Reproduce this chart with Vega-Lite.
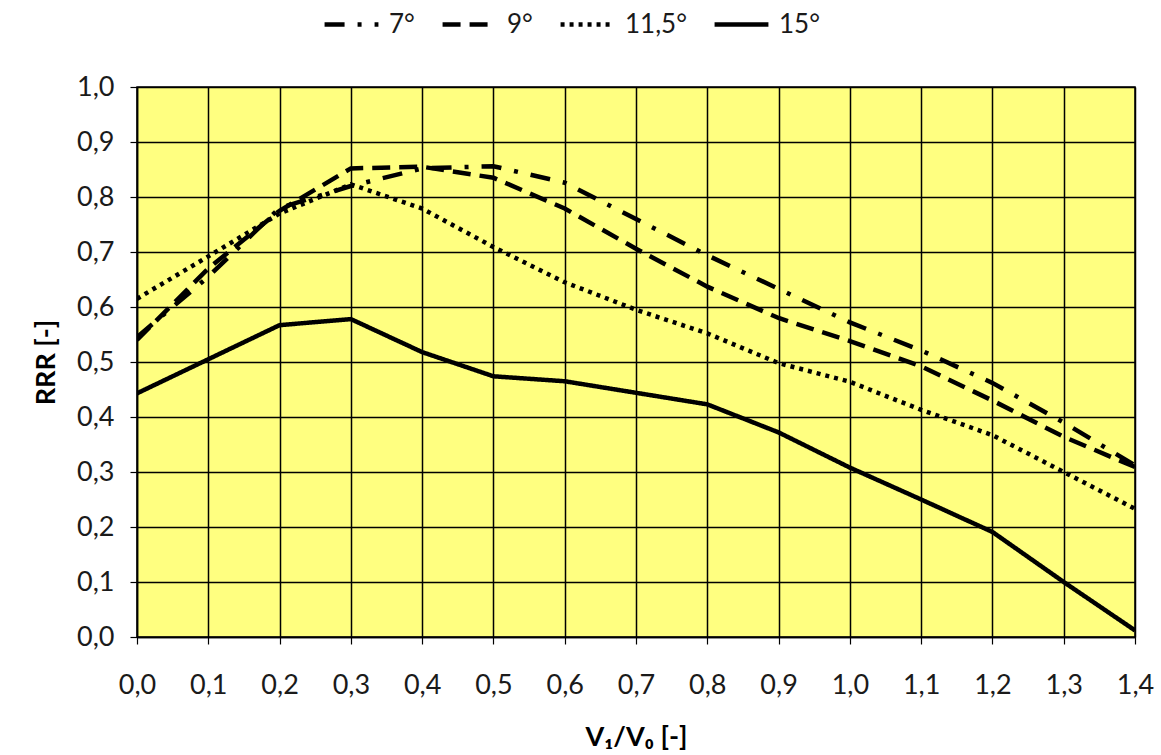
{
  "$schema": "https://vega.github.io/schema/vega-lite/v6.json",
  "width": 998,
  "height": 550,
  "autosize": "none",
  "padding": {"left": 137, "top": 87, "right": 26, "bottom": 118},
  "background": "white",
  "config": {
    "font": "Lato",
    "view": {"fill": "#FFFF80", "stroke": "black", "strokeWidth": 1.5},
    "axis": {
      "grid": true,
      "gridColor": "black",
      "gridWidth": 1.5,
      "gridOpacity": 1,
      "domainColor": "black",
      "domainWidth": 1.5,
      "tickColor": "black",
      "tickWidth": 1.2,
      "tickSize": 7,
      "labelFont": "Lato",
      "labelFontSize": 27,
      "labelColor": "#1a1a1a",
      "labelFlush": false,
      "labelOverlap": false,
      "titleFont": "Lato",
      "titleFontSize": 27,
      "titleFontWeight": "bold",
      "titleColor": "black"
    }
  },
  "data": {
    "values": [
      {"v": 0.0, "rrr": 0.545, "s": "7°"},
      {"v": 0.1, "rrr": 0.655, "s": "7°"},
      {"v": 0.2, "rrr": 0.78, "s": "7°"},
      {"v": 0.3, "rrr": 0.82, "s": "7°"},
      {"v": 0.4, "rrr": 0.852, "s": "7°"},
      {"v": 0.5, "rrr": 0.856, "s": "7°"},
      {"v": 0.6, "rrr": 0.826, "s": "7°"},
      {"v": 0.7, "rrr": 0.76, "s": "7°"},
      {"v": 0.8, "rrr": 0.694, "s": "7°"},
      {"v": 0.9, "rrr": 0.633, "s": "7°"},
      {"v": 1.0, "rrr": 0.572, "s": "7°"},
      {"v": 1.1, "rrr": 0.521, "s": "7°"},
      {"v": 1.2, "rrr": 0.462, "s": "7°"},
      {"v": 1.3, "rrr": 0.39, "s": "7°"},
      {"v": 1.4, "rrr": 0.312, "s": "7°"},
      {"v": 0.0, "rrr": 0.54, "s": "9°"},
      {"v": 0.1, "rrr": 0.67, "s": "9°"},
      {"v": 0.2, "rrr": 0.775, "s": "9°"},
      {"v": 0.3, "rrr": 0.852, "s": "9°"},
      {"v": 0.4, "rrr": 0.855, "s": "9°"},
      {"v": 0.5, "rrr": 0.835, "s": "9°"},
      {"v": 0.6, "rrr": 0.779, "s": "9°"},
      {"v": 0.7, "rrr": 0.706, "s": "9°"},
      {"v": 0.8, "rrr": 0.637, "s": "9°"},
      {"v": 0.9, "rrr": 0.58, "s": "9°"},
      {"v": 1.0, "rrr": 0.538, "s": "9°"},
      {"v": 1.1, "rrr": 0.492, "s": "9°"},
      {"v": 1.2, "rrr": 0.43, "s": "9°"},
      {"v": 1.3, "rrr": 0.364, "s": "9°"},
      {"v": 1.4, "rrr": 0.309, "s": "9°"},
      {"v": 0.0, "rrr": 0.615, "s": "11,5°"},
      {"v": 0.1, "rrr": 0.692, "s": "11,5°"},
      {"v": 0.2, "rrr": 0.77, "s": "11,5°"},
      {"v": 0.3, "rrr": 0.823, "s": "11,5°"},
      {"v": 0.4, "rrr": 0.779, "s": "11,5°"},
      {"v": 0.5, "rrr": 0.709, "s": "11,5°"},
      {"v": 0.6, "rrr": 0.645, "s": "11,5°"},
      {"v": 0.7, "rrr": 0.595, "s": "11,5°"},
      {"v": 0.8, "rrr": 0.552, "s": "11,5°"},
      {"v": 0.9, "rrr": 0.498, "s": "11,5°"},
      {"v": 1.0, "rrr": 0.464, "s": "11,5°"},
      {"v": 1.1, "rrr": 0.413, "s": "11,5°"},
      {"v": 1.2, "rrr": 0.367, "s": "11,5°"},
      {"v": 1.3, "rrr": 0.3, "s": "11,5°"},
      {"v": 1.4, "rrr": 0.233, "s": "11,5°"},
      {"v": 0.0, "rrr": 0.443, "s": "15°"},
      {"v": 0.1, "rrr": 0.505, "s": "15°"},
      {"v": 0.2, "rrr": 0.567, "s": "15°"},
      {"v": 0.3, "rrr": 0.578, "s": "15°"},
      {"v": 0.4, "rrr": 0.518, "s": "15°"},
      {"v": 0.5, "rrr": 0.474, "s": "15°"},
      {"v": 0.6, "rrr": 0.465, "s": "15°"},
      {"v": 0.7, "rrr": 0.444, "s": "15°"},
      {"v": 0.8, "rrr": 0.423, "s": "15°"},
      {"v": 0.9, "rrr": 0.372, "s": "15°"},
      {"v": 1.0, "rrr": 0.308, "s": "15°"},
      {"v": 1.1, "rrr": 0.25, "s": "15°"},
      {"v": 1.2, "rrr": 0.191, "s": "15°"},
      {"v": 1.3, "rrr": 0.1, "s": "15°"},
      {"v": 1.4, "rrr": 0.012, "s": "15°"}
    ]
  },
  "mark": {"type": "line", "color": "black", "clip": true},
  "encoding": {
    "x": {
      "field": "v",
      "type": "quantitative",
      "scale": {"domain": [0, 1.4], "nice": false, "zero": false},
      "axis": {
        "title": "V₁/V₀ [-]",
        "values": [0, 0.1, 0.2, 0.3, 0.4, 0.5, 0.6, 0.7, 0.8, 0.9, 1.0, 1.1, 1.2, 1.3, 1.4],
        "labelExpr": "replace(format(datum.value, '.1f'), '.', ',')",
        "labelPadding": 28,
        "titlePadding": 26
      }
    },
    "y": {
      "field": "rrr",
      "type": "quantitative",
      "scale": {"domain": [0, 1], "nice": false},
      "axis": {
        "title": "RRR [-]",
        "values": [0, 0.1, 0.2, 0.3, 0.4, 0.5, 0.6, 0.7, 0.8, 0.9, 1.0],
        "labelExpr": "replace(format(datum.value, '.1f'), '.', ',')",
        "labelPadding": 16,
        "titlePadding": 16
      }
    },
    "strokeDash": {
      "field": "s",
      "type": "nominal",
      "scale": {
        "domain": ["7°", "9°", "11,5°", "15°"],
        "range": [[20, 13, 4, 13], [18, 9], [4, 5], [1, 0]]
      },
      "legend": {
        "title": null,
        "orient": "none",
        "direction": "horizontal",
        "legendX": 185,
        "legendY": -92,
        "gridAlign": "none",
        "symbolType": "stroke",
        "symbolSize": 2900,
        "symbolStrokeColor": "black",
        "labelFontSize": 26,
        "labelFont": "Lato",
        "labelColor": "#1a1a1a",
        "columnPadding": 18,
        "labelOffset": 8
      }
    },
    "strokeWidth": {
      "field": "s",
      "type": "nominal",
      "scale": {
        "domain": ["7°", "9°", "11,5°", "15°"],
        "range": [4.5, 4.5, 4.5, 2.5]
      },
      "legend": null
    }
  }
}
